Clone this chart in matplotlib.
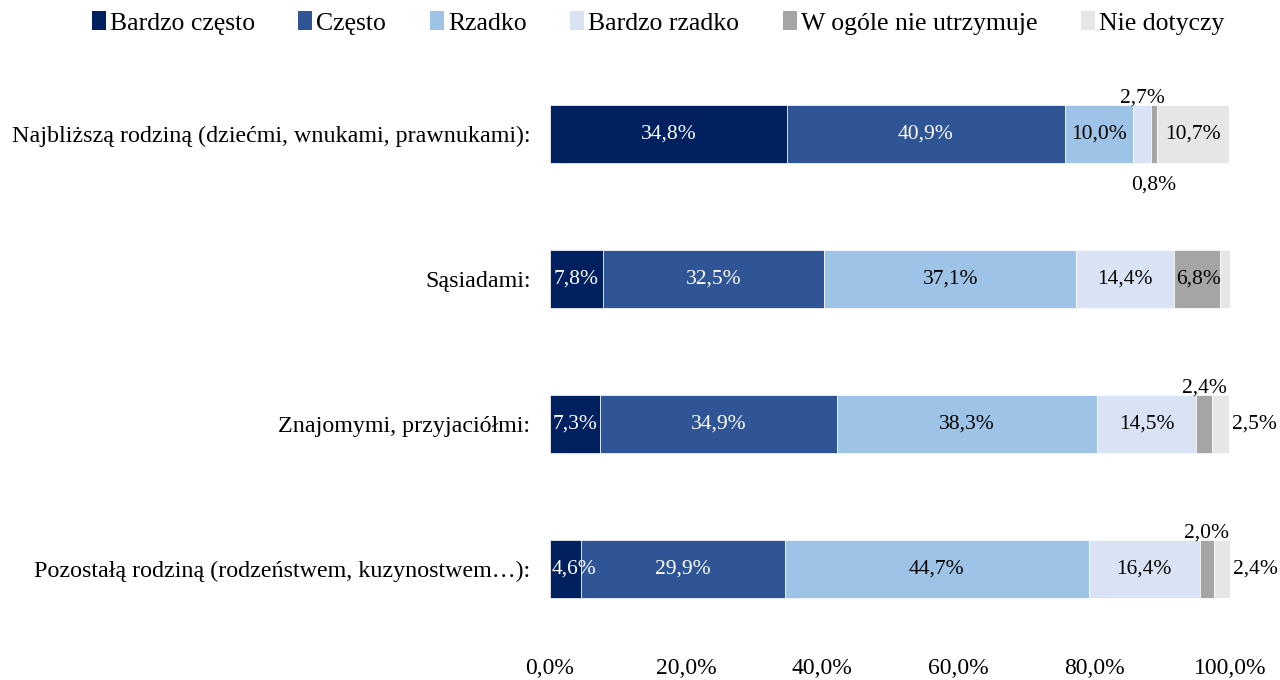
import numpy as np
import matplotlib
matplotlib.use('Agg')
import matplotlib.pyplot as plt
from matplotlib.patches import Patch

plt.rcParams['font.family'] = ['Liberation Serif', 'DejaVu Serif']

categories = [
    'Najbliższą rodziną (dziećmi, wnukami, prawnukami):',
    'Sąsiadami:',
    'Znajomymi, przyjaciółmi:',
    'Pozostałą rodziną (rodzeństwem, kuzynostwem…):',
]
series = ['Bardzo często', 'Często', 'Rzadko', 'Bardzo rzadko',
          'W ogóle nie utrzymuje', 'Nie dotyczy']
colors = ['#002060', '#2F5597', '#9DC3E6', '#DAE3F3', '#A5A5A5', '#E7E6E6']
text_colors = ['white', 'white', 'black', 'black', 'black', 'black']

bardzo_czesto = [34.8, 7.8, 7.3, 4.6]
czesto = [40.9, 32.5, 34.9, 29.9]
rzadko = [10.0, 37.1, 38.3, 44.7]
bardzo_rzadko = [2.7, 14.4, 14.5, 16.4]
w_ogole_nie = [0.8, 6.8, 2.4, 2.0]
nie_dotyczy = [10.7, 1.5, 2.5, 2.4]

# where each label goes: inside, above, below or right of the bar
label_pos = [
    ['in', 'in', 'in', 'above', 'below', 'in'],
    ['in', 'in', 'in', 'in', 'in', 'right'],
    ['in', 'in', 'in', 'in', 'above', 'right'],
    ['in', 'in', 'in', 'in', 'above', 'right'],
]

values = np.array([bardzo_czesto, czesto, rzadko, bardzo_rzadko,
                   w_ogole_nie, nie_dotyczy])

fig = plt.figure(figsize=(12.8, 6.8), dpi=100)
ax = fig.add_axes([550 / 1280, 1 - 641.5 / 680, 680 / 1280, 580 / 680])
ax.set_xlim(0, 100)
ax.set_ylim(len(categories) - 0.5, -0.5)

y = np.arange(len(categories))
bar_h = 0.4
lab_fs = 15.5
inside = []
left = np.zeros(len(categories))
for s in range(len(series)):
    ax.barh(y, values[s], left=left, height=bar_h, color=colors[s],
            edgecolor='white', linewidth=0.5)
    for i in range(len(categories)):
        v = values[s][i]
        cx = left[i] + v / 2
        lbl = f'{v:.1f}%'.replace('.', ',')
        pos = label_pos[i][s]
        if pos == 'in':
            t = ax.text(cx, y[i], lbl, ha='center', va='center', fontsize=lab_fs,
                        color=text_colors[s])
            inside.append((t, left[i]))
        elif pos == 'above':
            ax.annotate(lbl, (cx, y[i] - bar_h / 2), xytext=(0, -2),
                        textcoords='offset points', ha='center', va='bottom',
                        fontsize=lab_fs, color='black')
        elif pos == 'below':
            ax.annotate(lbl, (cx, y[i] + bar_h / 2), xytext=(0, -9),
                        textcoords='offset points', ha='center', va='top',
                        fontsize=lab_fs, color='black')
        else:
            ax.annotate(lbl, (left[i] + v, y[i]), xytext=(2, 0),
                        textcoords='offset points', ha='left', va='center',
                        fontsize=lab_fs, color='black')
    left += values[s]

# keep labels of narrow first segments from sticking out past the axis start
renderer = fig.canvas.get_renderer()
for t, seg_start in inside:
    bb = t.get_window_extent(renderer)
    x_start = ax.transData.transform((seg_start, 0))[0]
    if bb.x0 < x_start + 2:
        t.set_ha('left')
        t.set_x(ax.transData.inverted().transform((x_start + 2, 0))[0])

ax.set_yticks(y)
ax.set_yticklabels(categories, fontsize=17.3)
ticks = np.arange(0, 101, 20)
ax.set_xticks(ticks)
ax.set_xticklabels([f'{t:.1f}%'.replace('.', ',') for t in ticks], fontsize=17)
ax.tick_params(length=0, axis='y', pad=14)
ax.tick_params(length=0, axis='x', pad=12)
for sp in ax.spines.values():
    sp.set_visible(False)

handles = [Patch(facecolor=c, label=l) for c, l in zip(colors, series)]
fig.legend(handles=handles, loc='center', bbox_to_anchor=(0.514, 1 - 23 / 680),
           ncol=6, frameon=False, fontsize=18.5, handlelength=0.55,
           handleheight=0.75, handletextpad=0.15, columnspacing=1.7,
           borderpad=0)

fig.savefig('out.png', dpi=100, facecolor='white')
